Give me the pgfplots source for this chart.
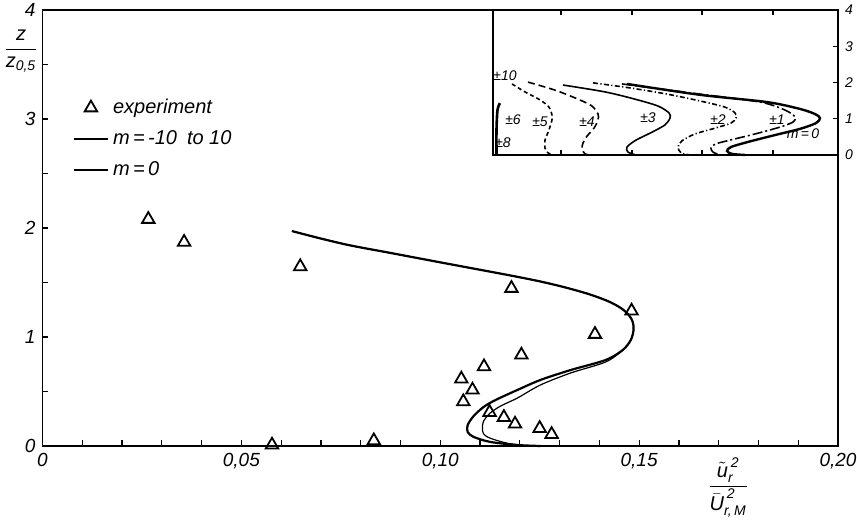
\documentclass[border=0pt]{standalone}
\usepackage{fontspec}
\setmainfont{Liberation Sans}
\usepackage{amsmath}
\usepackage{pgfplots}
\pgfplotsset{compat=1.18}
\begin{document}
\begin{tikzpicture}
\begin{axis}[name=main, scale only axis, width=397.75pt, height=218pt,
  xmin=0, xmax=0.2, ymin=0, ymax=4, clip=false,
  axis line style={line width=0.8pt},
  xtick={0,0.05,0.10,0.15,0.20}, xticklabels={0,{0,05},{0,10},{0,15},{0,20}},
  minor x tick num=4,
  ytick={0,1,2,3,4}, minor y tick num=1,
  xtick pos=left, ytick pos=left, tick align=inside,
  major tick length=2.75pt, minor tick length=2.75pt,
  every tick/.style={line width=0.6pt, black},
  /pgf/number format/assume math mode=true,
  tick label style={font=\itshape\fontsize{9.5}{11}\selectfont},
  legend style={at={(rel axis cs:0.03,0.815)}, anchor=north west, draw=none, fill=none,
    font=\itshape\fontsize{10}{12}\selectfont, row sep=3pt},
  legend cell align=left,
]
\addplot[only marks, mark=triangle, mark size=3.6pt, mark options={line width=0.9pt, black}] coordinates {
(0.0266,2.08) (0.0356,1.87) (0.0648,1.646) (0.1179,1.447) (0.1481,1.239) (0.1389,1.025)
(0.1204,0.835) (0.1110,0.728) (0.1053,0.615) (0.1081,0.514) (0.1058,0.407) (0.1124,0.309)
(0.1160,0.263) (0.1188,0.202) (0.1250,0.162) (0.1280,0.107) (0.0833,0.049) (0.0577,0.010)};
\addlegendentry{experiment}
\addplot[black, line width=1.1pt, smooth, tension=0.5] coordinates {
(0.0627,1.972) (0.0699,1.904) (0.0774,1.840) (0.0875,1.771) (0.0975,1.702) (0.1076,1.633)
(0.1177,1.564) (0.1252,1.509) (0.1315,1.454) (0.1373,1.394) (0.1421,1.330) (0.1454,1.266)
(0.1474,1.202) (0.1484,1.138) (0.1486,1.064) (0.1479,0.972)
(0.1459,0.881) (0.1416,0.789) (0.1328,0.697) (0.1252,0.606) (0.1194,0.514) (0.1139,0.422)
(0.1109,0.358) (0.1084,0.275) (0.1069,0.193) (0.1069,0.128) (0.1084,0.083) (0.1126,0.037)
(0.1194,0.009) (0.1252,0.0)};
\addlegendentry{m\,=\,-10\enspace to 10}
\addplot[black, line width=0.6pt, smooth, tension=0.5] coordinates {
(0.0627,1.972) (0.0699,1.904) (0.0774,1.840) (0.0875,1.771) (0.0975,1.702) (0.1076,1.633)
(0.1177,1.564) (0.1252,1.509) (0.1315,1.454) (0.1373,1.394) (0.1421,1.330) (0.1454,1.266)
(0.1474,1.202) (0.1484,1.138) (0.1486,1.064) (0.1479,0.972)
(0.1459,0.881) (0.1416,0.771) (0.1328,0.670) (0.1252,0.560) (0.1194,0.440) (0.1152,0.367)
(0.1126,0.303) (0.1109,0.229) (0.1106,0.165) (0.1109,0.110) (0.1126,0.071) (0.1169,0.025)
(0.1220,0.0)};
\addlegendentry{m\,=\,0}
\node[font=\fontsize{10}{12}\selectfont] at (axis description cs:-0.027,0.905)
  {$\dfrac{\textit{z}}{\textit{z}_{\textit{0,5}}}$};
\node[font=\fontsize{10}{12}\selectfont] at (axis description cs:0.862,-0.095)
  {$\dfrac{\tilde{\textit{u}}_{\textit{r}}^{\,\textit{2}}}{\bar{\textit{U}}_{\textit{r,\,M}}^{\,\textit{2}}}$};
\end{axis}
\begin{axis}[at={(main.north east)}, anchor=north east, scale only axis,
  width=172.5pt, height=72.5pt, xmin=493, xmax=838, ymin=0, ymax=4, clip=false,
  axis background/.style={fill=white},
  axis line style={line width=0.8pt},
  xtick={561,632,702,773}, xticklabels={},
  ytick={0,1,2,3,4}, ytick pos=right, yticklabel pos=right,
  tick align=inside, major tick length=2.5pt,
  every tick/.style={line width=0.6pt, black},
  /pgf/number format/assume math mode=true,
  tick label style={font=\itshape\fontsize{7}{8}\selectfont},
]
% m = 0
\addplot[black, line width=1.2pt, smooth, tension=0.5] coordinates {
(627,1.96) (700,1.66) (767,1.46) (800,1.27) (815,1.13) (820,1.02) (816,0.88) (800,0.72)
(775,0.55) (748,0.36) (731,0.22) (727,0.11) (732,0.03) (745,0.0)};
% +-1
\addplot[black, line width=0.8pt, smooth, tension=0.5, dash pattern=on 5pt off 1.5pt on 1pt off 1.5pt] coordinates {
(622,1.96) (700,1.68) (760,1.46) (785,1.24) (795,1.05) (793,0.91) (780,0.77) (755,0.58)
(730,0.41) (715,0.30) (711,0.19) (713,0.08) (720,0.0)};
% +-2
\addplot[black, line width=0.8pt, smooth, tension=0.5, dash pattern=on 2.5pt off 1.2pt on 0.6pt off 1.2pt] coordinates {
(593,1.99) (630,1.85) (667,1.68) (700,1.49) (725,1.32) (735,1.16) (736,1.02) (731,0.88)
(715,0.74) (695,0.58) (682,0.39) (678,0.22) (681,0.06) (690,0.0)};
% +-3
\addplot[black, line width=0.8pt, smooth, tension=0.5] coordinates {
(563,1.93) (605,1.74) (635,1.54) (658,1.35) (669,1.16) (670,1.02) (665,0.83) (652,0.63)
(636,0.41) (627,0.22) (628,0.08) (636,0.0)};
% +-4
\addplot[black, line width=0.8pt, smooth, tension=0.5, dash pattern=on 3.5pt off 2pt] coordinates {
(528,2.01) (555,1.79) (578,1.54) (592,1.35) (598,1.13) (598,0.97) (594,0.74) (587,0.52)
(583,0.33) (582,0.17) (585,0.03) (590,0.0)};
% +-5
\addplot[black, line width=0.8pt, smooth, tension=0.5, dash pattern=on 2pt off 1.5pt] coordinates {
(512,1.96) (525,1.74) (540,1.52) (549,1.32) (552,1.10) (552,0.97) (549,0.69) (545,0.41)
(545,0.19) (548,0.06) (552,0.0)};
% +-6 ... +-10
\addplot[black, line width=1.3pt, smooth, tension=0.5] coordinates {
(500,1.43) (497.5,1.24) (496.5,0.69) (496.5,0.0)};
\begin{scope}[font=\itshape\fontsize{7}{8}\selectfont]
\node at (axis cs:505,2.18) {±10};
\node at (axis cs:513,0.97) {±6};
\node at (axis cs:503,0.33) {±8};
\node at (axis cs:540,0.91) {±5};
\node at (axis cs:587,0.91) {±4};
\node at (axis cs:648,1.02) {±3};
\node at (axis cs:718,0.97) {±2};
\node at (axis cs:777,0.97) {±1};
\node at (axis cs:803,0.58) {m\,=\,0};
\end{scope}
\end{axis}
\pgfresetboundingbox
\path[use as bounding box] ([xshift=-21.25pt,yshift=-38.5pt]main.south west) rectangle ([xshift=9.5pt,yshift=5pt]main.north east);
\end{tikzpicture}
\end{document}
